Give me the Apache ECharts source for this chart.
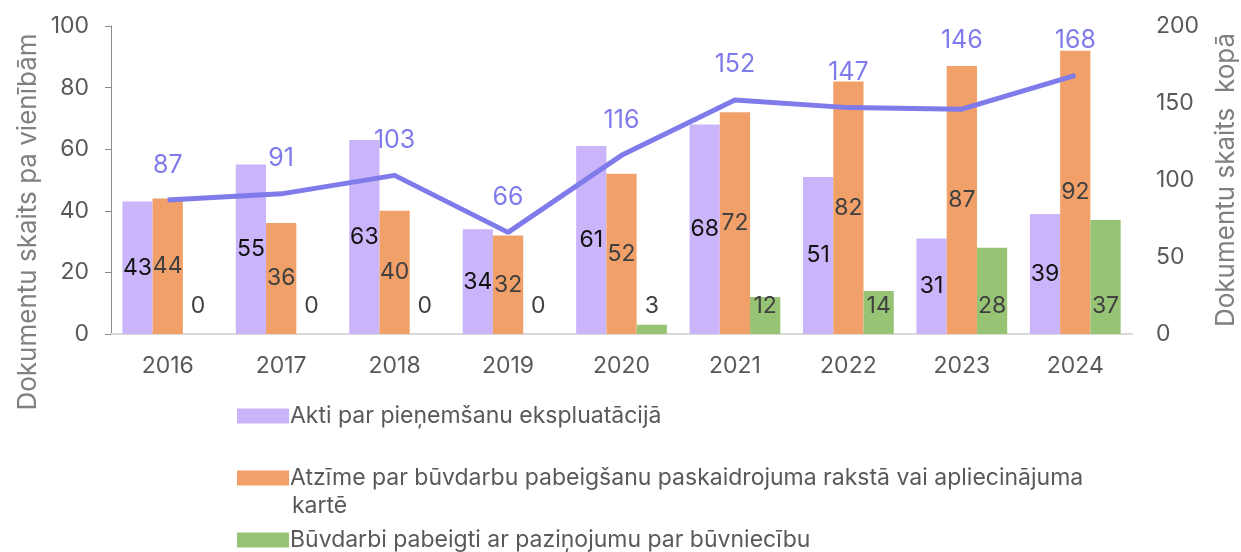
<!DOCTYPE html>
<html>
<head>
<meta charset="utf-8">
<script src="https://cdn.jsdelivr.net/npm/echarts@6/dist/echarts.min.js"></script>
<style>
  html, body { margin: 0; padding: 0; background: #fff; }
  #chart { width: 1241px; height: 552px; }
</style>
</head>
<body>
<div id="chart"></div>
<script>
const years = ["2016", "2017", "2018", "2019", "2020", "2021", "2022", "2023", "2024"];
const aktiValues = [43, 55, 63, 34, 61, 68, 51, 31, 39];
const atzimeValues = [44, 36, 40, 32, 52, 72, 82, 87, 92];
const pazinojumsValues = [0, 0, 0, 0, 3, 12, 14, 28, 37];
const totalValues = [87, 91, 103, 66, 116, 152, 147, 146, 168];

const seriesNames = [
  "Akti par pieņemšanu ekspluatācijā",
  "Atzīme par būvdarbu pabeigšanu paskaidrojuma rakstā vai apliecinājuma kartē",
  "Būvdarbi pabeigti ar paziņojumu par būvniecību"
];

const font = "Inter";
const chart = echarts.init(document.getElementById("chart"));

const legendBase = {
  left: 237,
  orient: "vertical",
  padding: 0,
  itemWidth: 52,
  itemHeight: 15,
  itemGap: 0,
  icon: "rect",
  selectedMode: false,
  textStyle: {
    fontFamily: font,
    fontSize: 23,
    color: "#595959",
    lineHeight: 30,
    padding: [0, 0, 0, -4]
  }
};

chart.setOption({
  animation: false,
  grid: { left: 111, right: 109, top: 26, bottom: 218 },
  legend: [
    Object.assign({}, legendBase, { top: 401, data: [seriesNames[0]] }),
    // long name: first line in legend, the rest as a graphic below it
    Object.assign({}, legendBase, {
      top: 463,
      data: [seriesNames[1]],
      formatter: name => name.replace(/ kartē$/, "")
    }),
    Object.assign({}, legendBase, { top: 525, data: [seriesNames[2]] })
  ],
  graphic: [
    {
      type: "text",
      left: 292,
      top: 495,
      style: {
        text: "kartē",
        font: "23px Inter",
        fill: "#595959"
      }
    },
    {
      type: "text",
      x: 28,
      y: 222,
      rotation: Math.PI / 2,
      style: {
        text: "Dokumentu skaits pa vienībām",
        font: "26px Inter",
        fill: "#808080",
        align: "center",
        verticalAlign: "middle"
      }
    },
    {
      type: "text",
      x: 1226,
      y: 180,
      rotation: Math.PI / 2,
      style: {
        text: "Dokumentu skaits  kopā",
        font: "26px Inter",
        fill: "#808080",
        align: "center",
        verticalAlign: "middle"
      }
    }
  ],
  xAxis: {
    type: "category",
    data: years,
    axisLine: { lineStyle: { color: "#d9d9d9", width: 2 } },
    axisTick: { show: false },
    axisLabel: { fontFamily: font, fontSize: 23, color: "#595959", margin: 21 }
  },
  yAxis: [
    {
      type: "value",
      min: 0,
      max: 100,
      interval: 20,
      axisLine: { show: true, lineStyle: { color: "#8c8c8c", width: 1 } },
      axisTick: { show: true, inside: false, length: 6, lineStyle: { color: "#8c8c8c" } },
      splitLine: { show: false },
      axisLabel: { fontFamily: font, fontSize: 23, color: "#595959", margin: 22 }
    },
    {
      type: "value",
      min: 0,
      max: 200,
      interval: 50,
      axisLine: { show: false },
      axisTick: { show: false },
      splitLine: { show: false },
      axisLabel: { fontFamily: font, fontSize: 23, color: "#595959", margin: 24 }
    }
  ],
  series: [
    {
      name: seriesNames[0],
      type: "bar",
      data: aktiValues,
      barGap: "0%",
      barCategoryGap: "20%",
      itemStyle: { color: "#cbb5fa" },
      label: {
        show: true,
        position: "inside",
        fontFamily: font,
        fontSize: 23,
        color: "#111111"
      }
    },
    {
      name: seriesNames[1],
      type: "bar",
      data: atzimeValues,
      itemStyle: { color: "#f0a068" },
      label: {
        show: true,
        position: "inside",
        fontFamily: font,
        fontSize: 23,
        color: "#404040"
      }
    },
    {
      name: seriesNames[2],
      type: "bar",
      data: pazinojumsValues,
      itemStyle: { color: "#97c474" },
      label: {
        show: true,
        position: "insideBottom",
        distance: 16,
        fontFamily: font,
        fontSize: 23,
        color: "#404040"
      }
    },
    {
      name: "Kopā",
      type: "line",
      yAxisIndex: 1,
      data: totalValues.map((v, i) =>
        i === 7 ? { value: v, label: { offset: [0, -34] } } : v
      ),
      showSymbol: true,
      symbol: "circle",
      symbolSize: 1,
      lineStyle: { color: "#7f7beb", width: 5 },
      itemStyle: { color: "#7f7beb" },
      z: 5,
      label: {
        show: true,
        position: "top",
        distance: 22,
        fontFamily: font,
        fontSize: 25,
        color: "#7f7beb"
      }
    }
  ]
});
</script>
</body>
</html>
